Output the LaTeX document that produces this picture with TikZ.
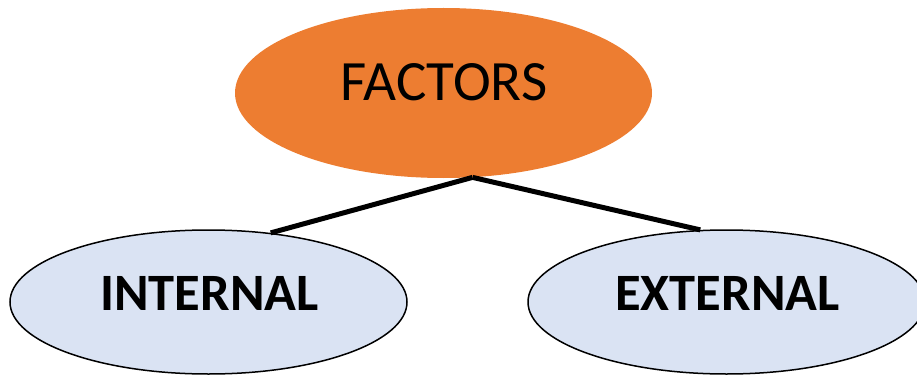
\documentclass[tikz,border=0pt]{standalone}
\usepackage{fontspec}
\setmainfont{Carlito}
\usetikzlibrary{shapes.geometric}
\definecolor{factorsorange}{HTML}{ED7D31}
\definecolor{paleblue}{HTML}{DAE3F3}
\begin{document}
\begin{tikzpicture}[x=1pt,y=-1pt,
  topoval/.style={ellipse, fill=factorsorange, draw=none, minimum width=417pt, minimum height=170pt, inner sep=0pt},
  suboval/.style={ellipse, fill=paleblue, draw=black, line width=1.5pt, minimum width=397pt, minimum height=144pt, inner sep=0pt},
  toptext/.style={font=\fontsize{57}{60}\selectfont, inner sep=0pt},
  subtext/.style={font=\fontsize{52.5}{56}\bfseries\selectfont, inner sep=0pt},
  link/.style={line width=5pt}]
\useasboundingbox (0,0) rectangle (917,377);
\begin{scope}
\clip (0,0) rectangle (917,377);
\node[topoval] (top) at (443.5,93) {};
\node[suboval] (left) at (208.5,302) {};
\node[suboval] (right) at (726.5,302) {};
\draw[link] (top.-71) -- (left.48);
\draw[link] (top.-71) -- (right.110);
\end{scope}
\node[toptext] (ttop) at (444,82) {FACTORS};
\node[subtext] (tleft) at (209.5,293) {INTERNAL};
\node[subtext] (tright) at (727.5,293) {EXTERNAL};
\end{tikzpicture}
\end{document}
